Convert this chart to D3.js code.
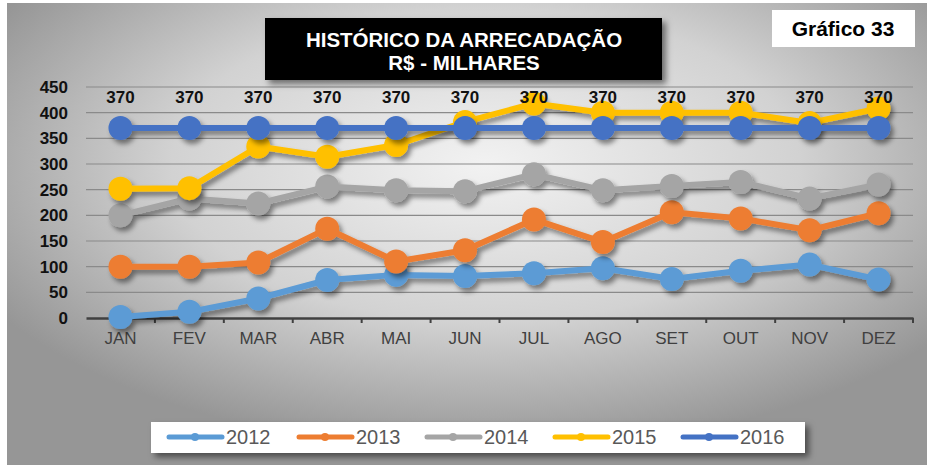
<!DOCTYPE html>
<html>
<head>
<meta charset="utf-8">
<script src="https://cdn.jsdelivr.net/npm/d3@7/dist/d3.min.js"></script>
<style>
  body { margin: 0; background: #fff; }
  svg { display: block; }
</style>
</head>
<body>
<div id="chart"></div>
<script>
const months = ["JAN", "FEV", "MAR", "ABR", "MAI", "JUN", "JUL", "AGO", "SET", "OUT", "NOV", "DEZ"];
const years = ["2012", "2013", "2014", "2015", "2016"];
const v2012 = [2, 12, 38, 74, 84, 82, 87, 97, 76, 92, 104, 75];
const v2013 = [100, 100, 108, 174, 110, 132, 192, 148, 206, 194, 171, 204];
const v2014 = [200, 233, 223, 256, 249, 247, 280, 249, 257, 265, 233, 260];
const v2015 = [252, 253, 334, 314, 337, 382, 418, 400, 400, 400, 380, 408];
const v2016 = [370, 370, 370, 370, 370, 370, 370, 370, 370, 370, 370, 370];
const yTicks = [0, 50, 100, 150, 200, 250, 300, 350, 400, 450];

const seriesValues = [v2012, v2013, v2014, v2015, v2016];
const colors = ["#5b9bd5", "#ed7d31", "#a5a5a5", "#ffc000", "#4472c4"];
const font = "Liberation Sans, Arial, sans-serif";

const width = 934, height = 469;

const svg = d3.select("#chart").append("svg")
  .attr("width", width)
  .attr("height", height);

const defs = svg.append("defs");
const bg = defs.append("radialGradient")
  .attr("id", "bg")
  .attr("cx", "52%").attr("cy", "35%").attr("r", "62%");
bg.append("stop").attr("offset", "0%").attr("stop-color", "#f2f2f2");
bg.append("stop").attr("offset", "55%").attr("stop-color", "#d2d2d2");
bg.append("stop").attr("offset", "100%").attr("stop-color", "#969696");

const shadow = defs.append("filter")
  .attr("id", "shadow")
  .attr("x", "-20%").attr("y", "-20%").attr("width", "140%").attr("height", "160%");
shadow.append("feDropShadow")
  .attr("dx", 3).attr("dy", 4).attr("stdDeviation", 2.5)
  .attr("flood-color", "#000").attr("flood-opacity", 0.45);

const boxShadow = defs.append("filter")
  .attr("id", "boxShadow")
  .attr("x", "-5%").attr("y", "-30%").attr("width", "110%").attr("height", "170%");
boxShadow.append("feDropShadow")
  .attr("dx", 4).attr("dy", 4).attr("stdDeviation", 3)
  .attr("flood-color", "#000").attr("flood-opacity", 0.5);

// background
svg.append("rect")
  .attr("x", 7).attr("y", 3)
  .attr("width", 920).attr("height", 462)
  .attr("fill", "url(#bg)");

const x = d3.scaleBand()
  .domain(months)
  .range([86, 913]);

const y = d3.scaleLinear()
  .domain([0, 450])
  .range([318, 87]);

// gridlines
svg.append("g")
  .selectAll("line")
  .data(yTicks.filter(d => d > 0))
  .join("line")
  .attr("x1", 86).attr("x2", 913)
  .attr("y1", d => y(d)).attr("y2", d => y(d))
  .attr("stroke", "#8a8a8a")
  .attr("stroke-width", 1.2);

// y labels
svg.append("g")
  .selectAll("text")
  .data(yTicks)
  .join("text")
  .attr("x", 68)
  .attr("y", d => y(d))
  .attr("dy", "0.36em")
  .attr("text-anchor", "end")
  .attr("font-family", font)
  .attr("font-weight", "bold")
  .attr("font-size", 17)
  .attr("fill", "#111")
  .text(d => d);

// x axis
const xAxis = svg.append("g")
  .attr("transform", "translate(0," + y(0) + ")")
  .call(d3.axisBottom(x).tickSize(0).tickPadding(14));
xAxis.select(".domain").attr("stroke", "#404040").attr("stroke-width", 2.5);
xAxis.selectAll("text")
  .attr("font-family", font)
  .attr("font-size", 17)
  .attr("fill", "#404040");
xAxis.append("g")
  .selectAll("line")
  .data(months.slice(1).concat(["end"]))
  .join("line")
  .attr("x1", (d, i) => i < 11 ? x(d) : x.range()[1])
  .attr("x2", (d, i) => i < 11 ? x(d) : x.range()[1])
  .attr("y1", 0).attr("y2", 5)
  .attr("stroke", "#404040")
  .attr("stroke-width", 2);

// series
const line = d3.line()
  .x((d, i) => x(months[i]) + x.bandwidth() / 2)
  .y(d => y(d));

seriesValues.forEach((vals, s) => {
  const g = svg.append("g").attr("filter", "url(#shadow)");
  g.append("path")
    .datum(vals)
    .attr("d", line)
    .attr("fill", "none")
    .attr("stroke", colors[s])
    .attr("stroke-width", 6)
    .attr("stroke-linejoin", "round");
  g.selectAll("circle")
    .data(vals)
    .join("circle")
    .attr("cx", (d, i) => x(months[i]) + x.bandwidth() / 2)
    .attr("cy", d => y(d))
    .attr("r", 12)
    .attr("fill", colors[s]);
});

// 2016 data labels
svg.append("g")
  .selectAll("text")
  .data(v2016)
  .join("text")
  .attr("x", (d, i) => x(months[i]) + x.bandwidth() / 2)
  .attr("y", 103)
  .attr("text-anchor", "middle")
  .attr("font-family", font)
  .attr("font-weight", "bold")
  .attr("font-size", 17)
  .attr("fill", "#111")
  .text(d => d);

// title box
svg.append("rect")
  .attr("x", 265).attr("y", 18)
  .attr("width", 397).attr("height", 62)
  .attr("fill", "#000")
  .attr("filter", "url(#boxShadow)");
svg.append("text")
  .attr("x", 464).attr("y", 47)
  .attr("text-anchor", "middle")
  .attr("font-family", font)
  .attr("font-weight", "bold")
  .attr("font-size", 20.5)
  .attr("fill", "#fff")
  .text("HISTÓRICO DA ARRECADAÇÃO");
svg.append("text")
  .attr("x", 464).attr("y", 70)
  .attr("text-anchor", "middle")
  .attr("font-family", font)
  .attr("font-weight", "bold")
  .attr("font-size", 20.5)
  .attr("fill", "#fff")
  .text("R$ - MILHARES");

// Gráfico box
svg.append("rect")
  .attr("x", 772).attr("y", 10)
  .attr("width", 143).attr("height", 37)
  .attr("fill", "#fff");
svg.append("text")
  .attr("x", 843).attr("y", 36)
  .attr("text-anchor", "middle")
  .attr("font-family", font)
  .attr("font-weight", "bold")
  .attr("font-size", 21)
  .attr("fill", "#000")
  .text("Gráfico 33");

// legend
const legendX = [167, 297, 425, 553, 681];
svg.append("rect")
  .attr("x", 151).attr("y", 422)
  .attr("width", 654).attr("height", 31)
  .attr("fill", "#fff")
  .attr("filter", "url(#boxShadow)");
const lg = svg.append("g")
  .selectAll("g")
  .data(years)
  .join("g")
  .attr("transform", (d, i) => "translate(" + legendX[i] + ",437)");
lg.append("line")
  .attr("x1", 2).attr("x2", 55)
  .attr("stroke", (d, i) => colors[i])
  .attr("stroke-width", 5)
  .attr("stroke-linecap", "round");
lg.append("circle")
  .attr("cx", 28).attr("r", 4)
  .attr("fill", (d, i) => colors[i]);
lg.append("text")
  .attr("x", 59).attr("dy", "0.36em")
  .attr("font-family", font)
  .attr("font-size", 20)
  .attr("fill", "#595959")
  .text(d => d);
</script>
</body>
</html>
